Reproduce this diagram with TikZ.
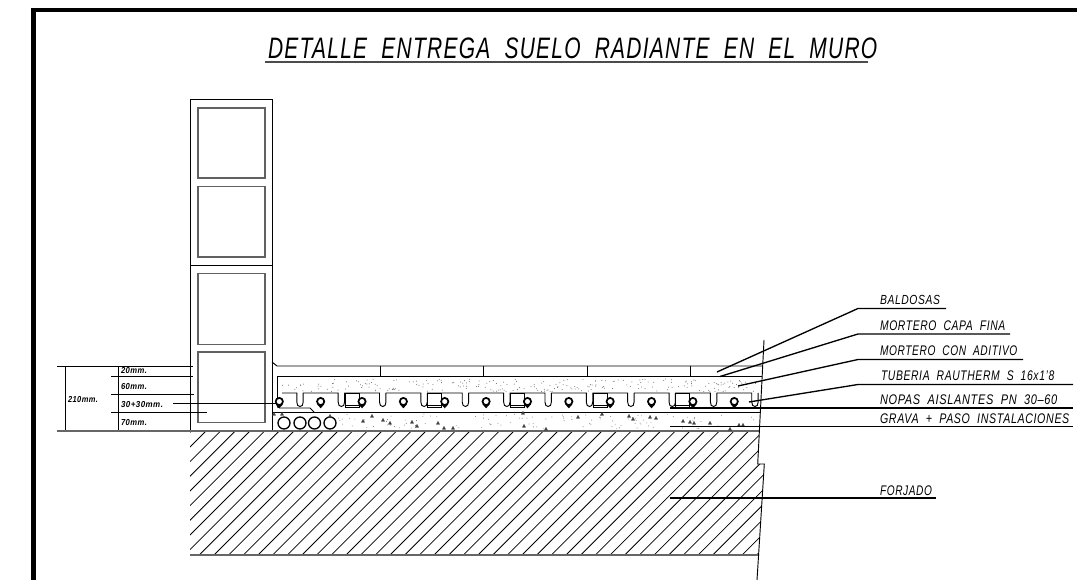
\documentclass[tikz,border=0pt]{standalone}
\usepackage{fontspec}
\setmainfont{Liberation Sans}
\usepackage{graphicx}
\usetikzlibrary{calc}
\newcommand{\cadtxt}[3]{\resizebox*{#1pt}{#2pt}{\addfontfeature{LetterSpace=6}\itshape #3}}
\tikzset{
  cadlabel/.style={anchor=base west,inner sep=0pt,outer sep=0pt,black},
  thinline/.style={draw=black,line width=0.7pt},
  leader/.style={draw=black,line width=1pt},
  slabline/.style={draw=black!60,line width=2.1pt},
  blockline/.style={draw=black!62,line width=1.2pt},
  hatchline/.style={draw=black,line width=0.6pt},
  frameline/.style={draw=black,line width=3.4pt},
  gravelmark/.style={fill=black!75,draw=black!75,line width=0.25pt}
}
\begin{document}
\begin{tikzpicture}[x=0.75pt,y=-0.75pt]
\useasboundingbox (0,0) rectangle (1077,580);
% frame
\draw[frameline] (33.3,580) -- (33.3,10) -- (1077,10);
% title
\node[cadlabel] (title) at (268,59) {\cadtxt{457}{15.7}{DETALLE~~ENTREGA~~SUELO~~RADIANTE~~EN~~EL~~MURO}};
\draw[draw=black!70,line width=1pt] (265,62) -- (868,62);
% wall
\draw[thinline] (190,431) -- (190,99) -- (272,99) -- (272,431);
\draw[thinline] (190,265) -- (272,265);
\foreach \t/\b in {108/178,186.5/257,273.5/344.5,352/422.5}
  \draw[blockline] (198,\t) rectangle (265,\b);
% dimension lines
\draw[thinline] (57,366) -- (193,366);
\draw[thinline] (111,376) -- (193,376);
\draw[thinline] (111,394) -- (194,394);
\draw[thinline] (111,412) -- (207,412);
\draw[thinline] (65,366) -- (65,431);
\draw[thinline] (118,366) -- (118,431);
\draw[thinline] (173,403) -- (276,403);
\node[cadlabel] (d20) at (121,374) {\cadtxt{19.5}{4.6}{\bfseries 20mm.}};
\node[cadlabel] (d60) at (121,389.3) {\cadtxt{19.5}{4.6}{\bfseries 60mm.}};
\node[cadlabel] (d30) at (121,407.3) {\cadtxt{31.5}{4.6}{\bfseries 30+30mm.}};
\node[cadlabel] (d70) at (121,426) {\cadtxt{19.5}{4.6}{\bfseries 70mm.}};
\node[cadlabel] (d210) at (68,402.3) {\cadtxt{22.5}{4.6}{\bfseries 210mm.}};
% slab hatch
\begin{scope}
\clip (190,431) -- (759,431) -- (757.7,464) -- (764,464) -- (758,555) -- (190,555) -- cycle;
\foreach \k in {0,...,50}
  \draw[hatchline] ({176.6+\k*14.67},431) -- ({52.6+\k*14.67},555);
\end{scope}
\draw[slabline] (57,431) -- (760,431);
\draw[slabline] (190,555) -- (759,555);
% floor layers
\draw[thinline] (272,362) -- (277,366) -- (762,366);
\draw[thinline] (277,405) -- (277,376) -- (762,376);
\foreach \x in {380,483,587,690} \draw[thinline] (\x,366) -- (\x,376);
\draw[thinline] (272,412) -- (760,412);
\draw[thinline] (277,405) .. controls (277,407) and (278,408) .. (280,408) -- (310,408) -- (314,412);
% nopas profile
\foreach \k in {0,...,11}{
  \pgfmathsetmacro{\g}{300+41.36*\k}
  \pgfmathsetmacro{\gs}{max(\g-38.2,282)}
  \draw[thinline] (\gs,393) -- ({\g-3.2},393) -- ({\g-3.2},402) .. controls ({\g-3.2},405) and ({\g-2},406.5) .. (\g,406.5) .. controls ({\g+2},406.5) and ({\g+3.2},405) .. ({\g+3.2},402) -- ({\g+3.2},393);
}
\foreach \j in {0,...,4}{
  \pgfmathsetmacro{\r}{345+82.7*\j}
  \draw[thinline] (\r,393) rectangle ({\r+14},407);
  \draw[draw=black,line width=0.5pt] (\r,405) -- ({\r+14},405);
}
% pipes
\foreach \k in {0,...,11}{
  \pgfmathsetmacro{\p}{279.3+41.36*\k}
  \fill[black] ({\p-3.4},404.5) -- ({\p+3.4},404.5) -- (\p,408.3) -- cycle;
  \draw[draw=black,fill=white,line width=1.3pt] (\p,401.5) circle (3.6);
}
% conduits
\foreach \c in {284,300,314.5,330}
  \draw[draw=black,fill=white,line width=1pt] (\c,423) circle (6);
% mortar stipple
\pgfmathsetseed{4217}
\foreach \i in {1,...,230}{
  \pgfmathsetmacro{\a}{281+rnd*478}
  \pgfmathsetmacro{\b}{379+rnd*12.5}
  \fill[black!60] (\a,\b) circle (0.5);
}
% gravel stipple
\foreach \i in {1,...,110}{
  \pgfmathsetmacro{\a}{338+rnd*420}
  \pgfmathsetmacro{\b}{414+rnd*15}
  \fill[black!60] (\a,\b) circle (0.45);
}
% gravel marks
\foreach \a/\b in {274/414,282/414,330/416,363/421,372/416,383/420,390/423,412/422,417/426,438/423,444/428,453/428,524/426,523/413,546/429,578/417,602/414,629/416,633/419,650/417,656/418,683/421,690/422,694/423,710/423,730/429,739/425,743/425}
  \draw[gravelmark] ({\a-1.6},{\b+1.3}) -- ({\a+1.6},{\b+1.3}) -- (\a,{\b-1.6}) -- cycle;
% break line
\draw[thinline] (764,340) -- (757.7,464) -- (764.3,464) -- (757,580);
% callouts
\coordinate (ba) at (717,372);  \coordinate (be) at (858,308.5);
\coordinate (ma) at (720,376.5);\coordinate (me) at (858,334);
\coordinate (aa) at (738,386);  \coordinate (ae) at (858,359.5);
\coordinate (ta) at (749,402);  \coordinate (te) at (858,384.5);
\coordinate (na) at (670,407.7);\coordinate (ga) at (670,426.3);\coordinate (fa) at (670,498);
\draw[leader] (ba) -- (be) -- (946,308.5);
\draw[leader] (ma) -- (me) -- (1010,334);
\draw[leader] (aa) -- (ae) -- (1023,359.5);
\draw[leader] (ta) -- (te) -- (1073,384.5);
\draw[leader,line width=1.3pt] (na) -- (1073,407.7);
\draw[leader] (ga) -- (1073,426.3);
\draw[leader] (fa) -- (936,498);
\node[cadlabel] (l1) at (880,305) {\cadtxt{45}{7}{BALDOSAS}};
\node[cadlabel] (l2) at (880,331) {\cadtxt{94}{7.4}{MORTERO~~CAPA~~FINA}};
\node[cadlabel] (l3) at (880,356) {\cadtxt{103}{7.4}{MORTERO~~CON~~ADITIVO}};
\node[cadlabel] (l4) at (881,381) {\cadtxt{130}{7.4}{TUBERIA~~RAUTHERM~~S~~16x1'8}};
\node[cadlabel] (l5) at (880,405) {\cadtxt{133}{7.4}{NOPAS~~AISLANTES~~PN~~30--60}};
\node[cadlabel] (l6) at (880,424) {\cadtxt{142}{7.4}{GRAVA~~+~~PASO~~INSTALACIONES}};
\node[cadlabel] (l7) at (880,495) {\cadtxt{39}{7.4}{FORJADO}};
\end{tikzpicture}
\end{document}
